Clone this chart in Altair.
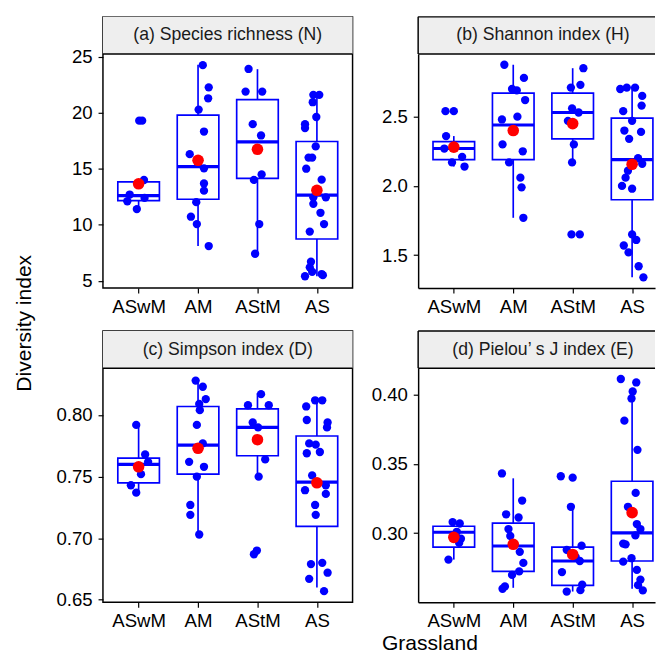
import altair as alt
import pandas as pd

FONT = "Liberation Sans"
BLUE = "#0000FF"
RED = "#FF0000"

categories = ["ASwM", "AM", "AStM", "AS"]
panel_titles = ["(a) Species richness (N)", "(b) Shannon index (H)",
                "(c) Simpson index (D)", "(d) Pielou\u2019 s J index (E)"]
y_title = "Diversity index"
x_title = "Grassland"

# ---------------- (a) Species richness ----------------
a_vals = {
    "ASwM": [19.3, 19.3, 14.0, 12.7, 12.4, 12.1, 11.4],
    "AM": [24.26, 22.28, 21.30, 20.29, 18.33, 16.31, 15.04, 13.69, 13.05, 12.02, 10.72, 10.06, 8.10],
    "AStM": [23.92, 21.90, 21.90, 18.99, 17.98, 14.50, 14.01, 10.06, 7.41],
    "AS": [21.61, 21.61, 20.95, 19.63, 18.99, 18.64, 17.0, 16.0, 16.0, 15.01, 14.03, 12.45, 12.45,
           11.87, 11.07, 10.06, 9.39, 6.7, 6.2, 5.8, 5.4, 5.6, 5.5],
}
a_jit = {
    "ASwM": [0.01, 0.06, 0.09, -0.15, 0.10, -0.19, -0.03],
    "AM": [0.08, 0.18, 0.17, 0.01, 0.10, -0.14, 0.10, 0.10, 0.10, -0.03, -0.12, -0.02, 0.18],
    "AStM": [-0.15, -0.20, 0.08, -0.08, 0.06, 0.07, -0.06, 0.03, -0.04],
    "AS": [-0.06, 0.04, -0.07, -0.01, -0.20, -0.20, -0.02, -0.14, -0.08, -0.18, 0.08, -0.06, 0.15,
           -0.06, 0.06, 0.12, -0.12, -0.10, -0.12, -0.08, -0.20, 0.08, 0.10],
}
a_q1 = [12.16, 12.28, 14.15, 8.73]
a_med = [12.6, 15.19, 17.41, 12.65]
a_q3 = [13.83, 19.8, 21.18, 17.44]
a_lo = [11.4, 8.1, 7.41, 5.4]
a_hi = [14.0, 24.3, 23.9, 21.6]
a_mean = [13.66, 15.76, 16.74, 13.08]

# ---------------- (b) Shannon index ----------------
b_vals = {
    "ASwM": [2.54, 2.54, 2.36, 2.27, 2.21, 2.17, 2.14],
    "AM": [2.875, 2.78, 2.70, 2.69, 2.62, 2.48, 2.50, 2.30, 2.25, 2.17, 2.06, 1.99, 1.77],
    "AStM": [2.85, 2.73, 2.71, 2.56, 2.53, 2.47, 2.30, 2.17, 1.65, 1.65],
    "AS": [2.70, 2.71, 2.71, 2.65, 2.58, 2.54, 2.47, 2.40, 2.39, 2.34, 2.20, 2.16, 2.11, 2.06,
           2.00, 1.98, 1.65, 1.61, 1.57, 1.52, 1.42, 1.34],
}
b_jit = {
    "ASwM": [-0.14, 0.0, -0.13, -0.16, 0.14, -0.03, 0.18],
    "AM": [-0.15, 0.18, -0.02, 0.06, 0.20, -0.19, 0.07, -0.18, 0.16, -0.07, 0.12, 0.14, 0.17],
    "AStM": [0.18, 0.13, -0.03, -0.01, 0.10, -0.08, 0.02, -0.01, -0.02, 0.12],
    "AS": [-0.20, -0.09, 0.05, 0.17, 0.16, -0.15, 0.0, -0.13, 0.15, -0.05, 0.10, 0.17, -0.07, -0.11,
           -0.17, 0.0, 0.0, 0.07, -0.14, -0.06, 0.11, 0.19],
}
b_q1 = [2.19, 2.19, 2.34, 1.90]
b_med = [2.27, 2.44, 2.53, 2.19]
b_q3 = [2.32, 2.67, 2.67, 2.49]
b_lo = [2.14, 1.77, 2.17, 1.34]
b_hi = [2.36, 2.875, 2.85, 2.71]
b_mean = [2.28, 2.40, 2.45, 2.156]

# ---------------- (c) Simpson index ----------------
c_vals = {
    "ASwM": [0.792, 0.768, 0.762, 0.752, 0.743, 0.737],
    "AM": [0.828, 0.823, 0.813, 0.809, 0.804, 0.792, 0.777, 0.762, 0.758, 0.750, 0.727, 0.719, 0.703],
    "AStM": [0.817, 0.808, 0.808, 0.794, 0.790, 0.764, 0.750, 0.687, 0.690],
    "AS": [0.812, 0.812, 0.807, 0.796, 0.794, 0.790, 0.777, 0.776, 0.770, 0.769, 0.751, 0.743,
           0.739, 0.736, 0.727, 0.719, 0.679, 0.680, 0.672, 0.667, 0.657],
}
c_jit = {
    "ASwM": [-0.04, 0.11, 0.16, 0.04, -0.13, -0.04],
    "AM": [-0.04, 0.08, 0.13, 0.02, 0.03, -0.02, 0.08, -0.15, 0.10, -0.02, -0.13, -0.13, 0.02],
    "AStM": [0.06, -0.16, 0.19, -0.08, 0.01, 0.13, 0.02, -0.06, -0.01],
    "AS": [-0.03, 0.09, -0.18, -0.17, 0.18, 0.17, -0.13, -0.02, 0.05, -0.17, -0.08, 0.15,
           -0.20, 0.15, -0.03, -0.02, -0.10, 0.09, 0.18, -0.13, 0.12],
}
c_q1 = [0.745, 0.752, 0.767, 0.7096]
c_med = [0.760, 0.7756, 0.790, 0.7456]
c_q3 = [0.765, 0.807, 0.805, 0.783]
c_lo = [0.737, 0.703, 0.750, 0.660]
c_hi = [0.792, 0.828, 0.818, 0.812]
c_mean = [0.758, 0.773, 0.780, 0.745]

# ---------------- (d) Pielou's J index ----------------
d_vals = {
    "ASwM": [0.308, 0.307, 0.301, 0.296, 0.293, 0.281],
    "AM": [0.343, 0.3235, 0.3136, 0.3113, 0.303, 0.298, 0.2918, 0.2866, 0.2786, 0.2725, 0.270,
           0.2617, 0.260],
    "AStM": [0.341, 0.340, 0.319, 0.291, 0.288, 0.283, 0.280, 0.272, 0.263, 0.259, 0.258],
    "AS": [0.411, 0.4085, 0.402, 0.397, 0.381, 0.360, 0.329, 0.319, 0.3066, 0.303, 0.2984, 0.2925,
           0.292, 0.2795, 0.282, 0.2736, 0.2666, 0.2626, 0.2588],
}
d_jit = {
    "ASwM": [-0.02, 0.10, 0.05, 0.12, 0.09, -0.09],
    "AM": [-0.19, 0.15, -0.12, 0.09, -0.08, -0.05, 0.02, 0.11, 0.17, 0.10, -0.02, -0.14, -0.18],
    "AStM": [-0.20, 0.0, -0.03, 0.15, -0.10, 0.05, 0.12, -0.18, 0.16, 0.13, -0.10],
    "AS": [-0.19, 0.07, 0.01, -0.01, -0.13, 0.09, 0.06, -0.07, 0.08, 0.14, 0.055, -0.15,
           -0.11, -0.15, -0.01, 0.08, 0.14, 0.10, 0.18],
}
d_q1 = [0.290, 0.2725, 0.2624, 0.280]
d_med = [0.3007, 0.2908, 0.280, 0.3002]
d_q3 = [0.305, 0.3073, 0.290, 0.3374]
d_lo = [0.281, 0.2607, 0.258, 0.260]
d_hi = [0.308, 0.3395, 0.319, 0.397]
d_mean = [0.297, 0.292, 0.2847, 0.3148]

# layout constants
PW, PW_R, PH, SH = 255, 242, 239, 38
EXT = 48
BW = 1.5
label_expr = "[" + ",".join("'%s'" % c for c in categories) + "][datum.value - 1]"


def panel(title, vals, jits, q1, med, q3, lo, hi, mean, domain, ticks, fmt, right=False):
    rows = []
    for i, c in enumerate(categories):
        for v, j in zip(vals[c], jits[c]):
            rows.append({"idx": i + 1, "value": v, "jit": j})
    pts = pd.DataFrame(rows)
    bx = pd.DataFrame({"idx": [1, 2, 3, 4], "q1": q1, "med": med, "q3": q3,
                       "lo": lo, "hi": hi, "mean": mean})

    w = PW_R if right else PW
    x_lo, x_hi = 0.4, 0.4 + 4.2 * w / PW
    xscale = alt.Scale(domain=[x_lo, x_hi], nice=False, zero=False)
    # plot area sits below the strip inside the same view
    yscale = alt.Scale(domain=domain, range=[SH + PH, SH], nice=False, zero=False)
    sscale = alt.Scale(domain=[0, 1], range=[SH, 0], nice=False, zero=False)
    xaxis = alt.Axis(values=[1, 2, 3, 4], labelExpr=label_expr, grid=False, title=None,
                     labelPadding=5,
                     domain=right, domainColor="black", domainWidth=BW)
    yaxis = alt.Axis(values=ticks, format=fmt, grid=False, title=None, labelPadding=6,
                     orient="left", minExtent=EXT, maxExtent=EXT,
                     domain=right, domainColor="black", domainWidth=BW)

    # ---- strip (panel title box) ----
    sdf = pd.DataFrame({"t": [title], "x0": [x_lo], "x1": [x_hi], "xm": [2.5],
                        "y0": [0.0], "y1": [1.0]})
    sbase = alt.Chart(sdf)
    bg = sbase.mark_rect(fill="#EEEEEE").encode(
        x=alt.X("x0:Q", scale=xscale, axis=xaxis), x2="x1:Q",
        y=alt.Y("y0:Q", scale=sscale, axis=None), y2="y1:Q")
    txt = sbase.mark_text(font=FONT, fontSize=18, color="#1a1a1a", baseline="middle",
                          align="center").encode(
        text="t:N",
        x=alt.X("xm:Q", scale=xscale, axis=xaxis),
        y=alt.YDatum(0.5, type="quantitative", scale=sscale, axis=None))
    # frame lines of the strip: bottom always, top and left only where no view border
    if right:
        edges = pd.DataFrame({"x": [x_lo, x_lo, x_lo], "x2": [x_hi, x_hi, x_lo],
                              "y": [0.0, 1.0, 0.0], "y2": [0.0, 1.0, 1.0]})
    else:
        edges = pd.DataFrame({"x": [x_lo], "x2": [x_hi], "y": [0.0], "y2": [0.0]})
    frame = alt.Chart(edges).mark_rule(color="black", strokeWidth=BW).encode(
        x=alt.X("x:Q", scale=xscale, axis=xaxis), x2="x2:Q",
        y=alt.Y("y:Q", scale=sscale, axis=None), y2="y2:Q")
    strip = alt.layer(bg, txt, frame)

    # ---- box plot panel ----
    base = alt.Chart(bx).transform_calculate(xl="datum.idx - 0.35", xr="datum.idx + 0.35")
    wl = base.mark_rule(color=BLUE, strokeWidth=1.7).encode(
        x=alt.X("idx:Q", scale=xscale, axis=xaxis),
        y=alt.Y("lo:Q", scale=yscale, axis=yaxis), y2="q1:Q")
    wh = base.mark_rule(color=BLUE, strokeWidth=1.7).encode(
        x=alt.X("idx:Q", scale=xscale, axis=xaxis),
        y=alt.Y("q3:Q", scale=yscale, axis=yaxis), y2="hi:Q")
    box = base.mark_rect(fill="white", stroke=BLUE, strokeWidth=1.7).encode(
        x=alt.X("xl:Q", scale=xscale, axis=xaxis), x2="xr:Q",
        y=alt.Y("q1:Q", scale=yscale, axis=yaxis), y2="q3:Q")
    md = base.mark_rule(color=BLUE, strokeWidth=3.2).encode(
        x=alt.X("xl:Q", scale=xscale, axis=xaxis), x2="xr:Q",
        y=alt.Y("med:Q", scale=yscale, axis=yaxis))
    pt = alt.Chart(pts).transform_calculate(x="datum.idx + datum.jit").mark_circle(
        color=BLUE, size=72, opacity=1).encode(
        x=alt.X("x:Q", scale=xscale, axis=xaxis),
        y=alt.Y("value:Q", scale=yscale, axis=yaxis))
    mn = base.mark_circle(color=RED, size=140, opacity=1).encode(
        x=alt.X("idx:Q", scale=xscale, axis=xaxis),
        y=alt.Y("mean:Q", scale=yscale, axis=yaxis))
    plot = alt.layer(wl, wh, box, md, pt, mn)

    view = alt.ViewBackground(fill="white", stroke="transparent" if right else "black",
                              strokeWidth=BW)
    return alt.layer(strip, plot).resolve_scale(y="independent").properties(
        width=w, height=SH + PH, view=view)


specs = [
    (a_vals, a_jit, a_q1, a_med, a_q3, a_lo, a_hi, a_mean, [4.35, 25.25], [5, 10, 15, 20, 25], "d"),
    (b_vals, b_jit, b_q1, b_med, b_q3, b_lo, b_hi, b_mean, [1.263, 2.952], [1.5, 2.0, 2.5], ".1f"),
    (c_vals, c_jit, c_q1, c_med, c_q3, c_lo, c_hi, c_mean, [0.648, 0.838], [0.65, 0.70, 0.75, 0.80], ".2f"),
    (d_vals, d_jit, d_q1, d_med, d_q3, d_lo, d_hi, d_mean, [0.2503, 0.4187], [0.30, 0.35, 0.40], ".2f"),
]

panels = [panel(panel_titles[k], *s, right=(k % 2 == 1)) for k, s in enumerate(specs)]

row1 = alt.hconcat(panels[0], panels[1], spacing=16)
row2 = alt.hconcat(panels[2], panels[3], spacing=16)

xt = alt.Chart(pd.DataFrame({"t": [x_title]})).mark_text(
    font=FONT, fontSize=21.5, color="black", baseline="middle", align="center").encode(
    text="t:N", x=alt.value(EXT + 286), y=alt.value(9)).properties(
    width=500, height=18,
    view=alt.ViewBackground(fill="white", stroke="transparent"))

yt = alt.Chart(pd.DataFrame({"t": [y_title]})).mark_text(
    font=FONT, fontSize=21.5, color="black", baseline="middle", align="center",
    angle=270).encode(
    text="t:N", x=alt.value(11), y=alt.value(313)).properties(
    width=22, height=600,
    view=alt.ViewBackground(fill="white", stroke="transparent"))

grid = alt.vconcat(row1, alt.vconcat(row2, xt, spacing=1), spacing=12)
chart = alt.hconcat(yt, grid, spacing=18).properties(
    padding={"left": 6, "top": 0, "right": 0, "bottom": 0}
).configure_axis(
    labelFont=FONT, labelFontSize=19, labelColor="black",
    tickColor="black", tickSize=5, tickWidth=1.2,
).configure_view(stroke="black", strokeWidth=BW)

chart.save("out.html", embed_options={"renderer": "svg", "actions": False})
